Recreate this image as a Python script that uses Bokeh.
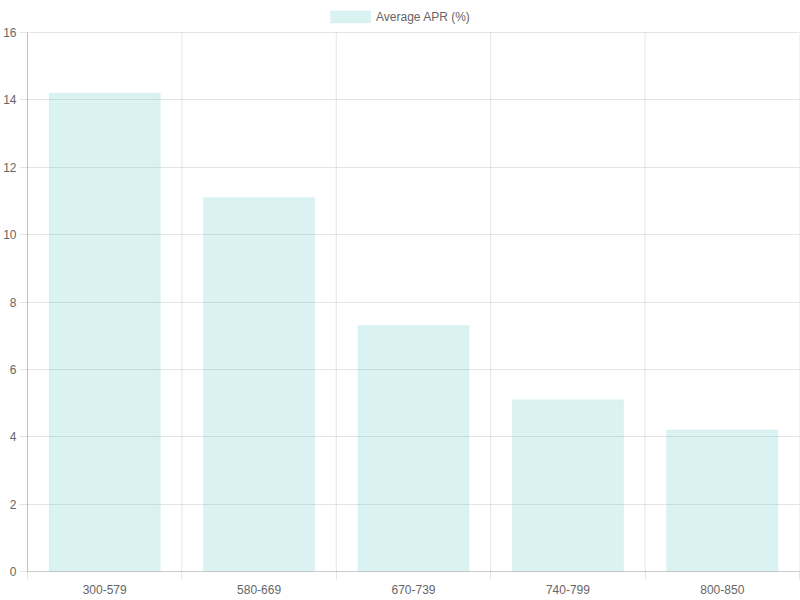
import numpy as np
from bokeh.plotting import figure
from bokeh.models import ColumnDataSource, FixedTicker, Range1d, Legend, LegendItem
from bokeh.embed import file_html
from bokeh.resources import INLINE

categories = ["300-579", "580-669", "670-739", "740-799", "800-850"]
apr_values = [14.2, 11.1, 7.3, 5.1, 4.2]
series_name = "Average APR (%)"
y_ticks = [0, 2, 4, 6, 8, 10, 12, 14, 16]

n = len(categories)
centers = (np.arange(n) + 0.5).tolist()
bounds = np.arange(n + 1).tolist()
y_max = y_ticks[-1]
# headroom above the top gridline for the legend (frame 571px tall, 539px for 0..16)
y_top = y_max * 571.0 / 539.0

src = ColumnDataSource(dict(x=centers, top=apr_values, cat=categories))
vgrid = ColumnDataSource(dict(x=bounds, y0=[0] * len(bounds), y1=[y_max] * len(bounds)))

FONT = "Liberation Sans"
TXT = "#666666"
GRID = "rgba(0,0,0,0.1)"

p = figure(width=800, height=600, output_backend="svg", toolbar_location=None,
           x_range=Range1d(0, n), y_range=Range1d(0, y_top),
           min_border_left=0, min_border_right=1, min_border_top=0, min_border_bottom=29)
p.outline_line_color = None
p.background_fill_color = "white"
p.border_fill_color = "white"

# vertical gridlines at category boundaries, only up to the top tick
p.segment(x0="x", x1="x", y0="y0", y1="y1", source=vgrid, line_color=GRID, line_width=1,
          level="underlay")

r = p.vbar(x="x", top="top", bottom=0, width=0.72, source=src,
           fill_color="#4bc0c0", fill_alpha=0.2, line_color="#4bc0c0", line_alpha=0.08, line_width=1)

# x axis
xa = p.xaxis[0]
xa.ticker = FixedTicker(ticks=centers, minor_ticks=bounds)
xa.major_label_overrides = {c: lab for c, lab in zip(centers, categories)}
xa.major_tick_line_color = None
xa.major_tick_out = 8
xa.major_tick_in = 0
xa.minor_tick_out = 8
xa.minor_tick_in = 0
xa.minor_tick_line_color = GRID
xa.axis_line_color = "rgba(0,0,0,0.2)"
xa.major_label_standoff = 5
xa.major_label_text_font = FONT
xa.major_label_text_font_size = "12px"
xa.major_label_text_color = TXT

# y axis
ya = p.yaxis[0]
ya.ticker = FixedTicker(ticks=y_ticks)
ya.bounds = (0, y_max)
ya.major_tick_out = 8
ya.major_tick_in = 0
ya.minor_tick_line_color = None
ya.major_tick_line_color = GRID
ya.axis_line_color = "rgba(0,0,0,0.2)"
ya.major_label_standoff = 3
ya.major_label_text_font = FONT
ya.major_label_text_font_size = "12px"
ya.major_label_text_color = TXT

p.xgrid.grid_line_color = None
p.ygrid.ticker = FixedTicker(ticks=y_ticks)
p.ygrid.grid_line_color = GRID

legend = Legend(items=[LegendItem(label=series_name, renderers=[r])],
                orientation="horizontal", location=(298, 547),
                glyph_width=50, glyph_height=15, label_standoff=1,
                label_text_font=FONT, label_text_font_size="12px", label_text_color=TXT,
                border_line_color=None, background_fill_alpha=0,
                padding=4, margin=0, spacing=0)
p.add_layout(legend)

open("out.html", "w").write(file_html(p, INLINE))
